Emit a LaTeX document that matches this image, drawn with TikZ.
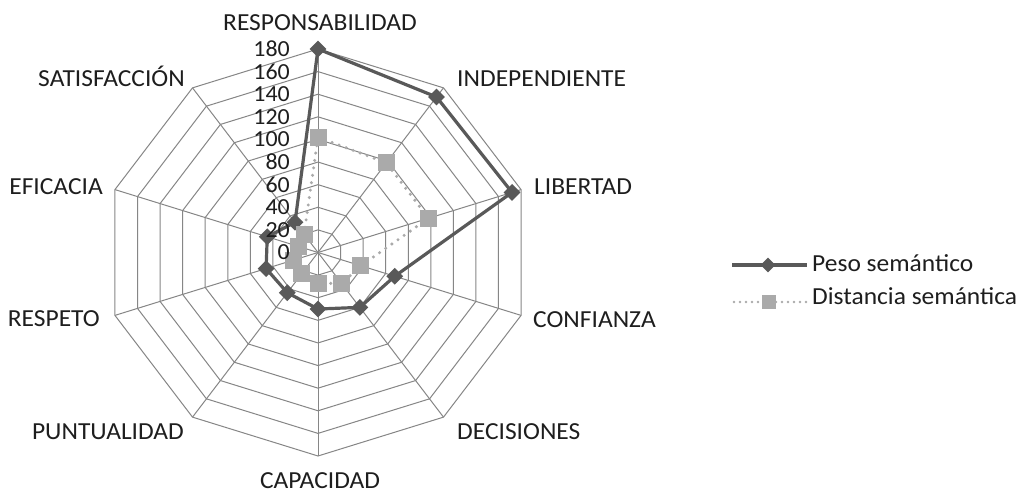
\documentclass[tikz,border=0pt]{standalone}
\usepackage{fontspec}
\setmainfont{Carlito}[FakeStretch=1.04]
\usetikzlibrary{shapes.geometric}
\definecolor{gridc}{RGB}{134,134,134}
\definecolor{pesoc}{RGB}{89,89,89}
\definecolor{distc}{RGB}{170,170,170}
\definecolor{txtc}{RGB}{30,30,30}
\begin{document}
\begin{tikzpicture}[x=1pt,y=1pt,
  gridline/.style={draw=gridc,line width=1pt},
  pesoline/.style={draw=pesoc,line width=3.2pt,line join=round},
  distline/.style={draw=distc,line width=3.4pt,line cap=round,dash pattern=on 0pt off 7.5pt},
  pesomark/.style={shape=diamond,fill=pesoc,draw=none,minimum size=17pt,inner sep=0pt},
  distmark/.style={shape=rectangle,fill=distc,draw=none,minimum size=17pt,inner sep=0pt},
  axlbl/.style={inner sep=0pt,text=txtc,font=\fontsize{24.5}{29}\selectfont},
  numlbl/.style={inner sep=0pt,anchor=east,text=txtc,font=\fontsize{23}{27}\selectfont},
  leglbl/.style={inner sep=0pt,anchor=base west,text=txtc,font=\fontsize{24.5}{29}\selectfont}]
\useasboundingbox (0,0) rectangle (1019,494);
\fill[white] (0,0) rectangle (1019,494);
\coordinate (c) at (318,241.5);
\begin{scope}[shift={(c)},x=1.186111pt,y=1.130556pt]
  % rings
  \foreach \r in {1,...,9} {
    \draw[gridline] (90:\r*20) \foreach \k in {1,...,9} { -- ({90-36*\k}:\r*20) } -- cycle;
  }
  % spokes
  \foreach \k in {0,...,9} {
    \coordinate (s\k) at ({90-36*\k}:180);
    \draw[gridline] (0,0) -- (s\k);
  }
  % data
  \foreach \v [count=\k from 0] in {180,170,172,68,60,50,44,46,45,33}
    \coordinate (p\k) at ({90-36*\k}:\v);
  \foreach \v [count=\k from 0] in {102,98,98,38,34,27,23,22,17,20}
    \coordinate (d\k) at ({90-36*\k}:\v);
\end{scope}
% Peso semantico series
\draw[pesoline] (p0) -- (p1) -- (p2) -- (p3) -- (p4) -- (p5) -- (p6) -- (p7) -- (p8) -- (p9) -- cycle;
\foreach \k in {0,...,9} \node[pesomark] (pm\k) at (p\k) {};
% Distancia semantica series
\draw[distline] (d0) -- (d1) -- (d2) -- (d3) -- (d4) -- (d5) -- (d6) -- (d7) -- (d8) -- (d9) -- cycle;
\foreach \k in {0,...,9} \node[distmark] (dm\k) at (d\k) {};
% axis numbers
\foreach \v [count=\i from 0] in {0,20,...,180}
  \node[numlbl] (n\i) at (290,{241.5+\i*22.611}) {\v};
% category labels
\node[axlbl,anchor=base] (lResp) at (320,463) {RESPONSABILIDAD};
\node[axlbl,anchor=base west] (lInd) at (457,407) {INDEPENDIENTE};
\node[axlbl,anchor=base west] (lLib) at (534,299) {LIBERTAD};
\node[axlbl,anchor=base west] (lConf) at (533,166) {CONFIANZA};
\node[axlbl,anchor=base west] (lDec) at (457,54) {DECISIONES};
\node[axlbl,anchor=base] (lCap) at (320,5.5) {CAPACIDAD};
\node[axlbl,anchor=base east] (lPunt) at (184,54) {PUNTUALIDAD};
\node[axlbl,anchor=base east] (lRes) at (100,167) {RESPETO};
\node[axlbl,anchor=base east] (lEfi) at (103,299) {EFICACIA};
\node[axlbl,anchor=base east] (lSat) at (185,407) {SATISFACCIÓN};
% legend
\coordinate (la1) at (732,229);
\coordinate (lb1) at (807,229);
\draw[pesoline] (la1) -- (lb1);
\node[pesomark,minimum size=15pt] (lm1) at (768,229) {};
\node[leglbl] (lt1) at (812,222) {Peso semántico};
\coordinate (la2) at (734,192);
\coordinate (lb2) at (807,192);
\draw[distline,line width=2.6pt,dash pattern=on 0pt off 6pt] (la2) -- (lb2);
\node[distmark,minimum size=14pt] (lm2) at (769,192) {};
\node[leglbl] (lt2) at (812,189) {Distancia semántica};
\end{tikzpicture}
\end{document}
